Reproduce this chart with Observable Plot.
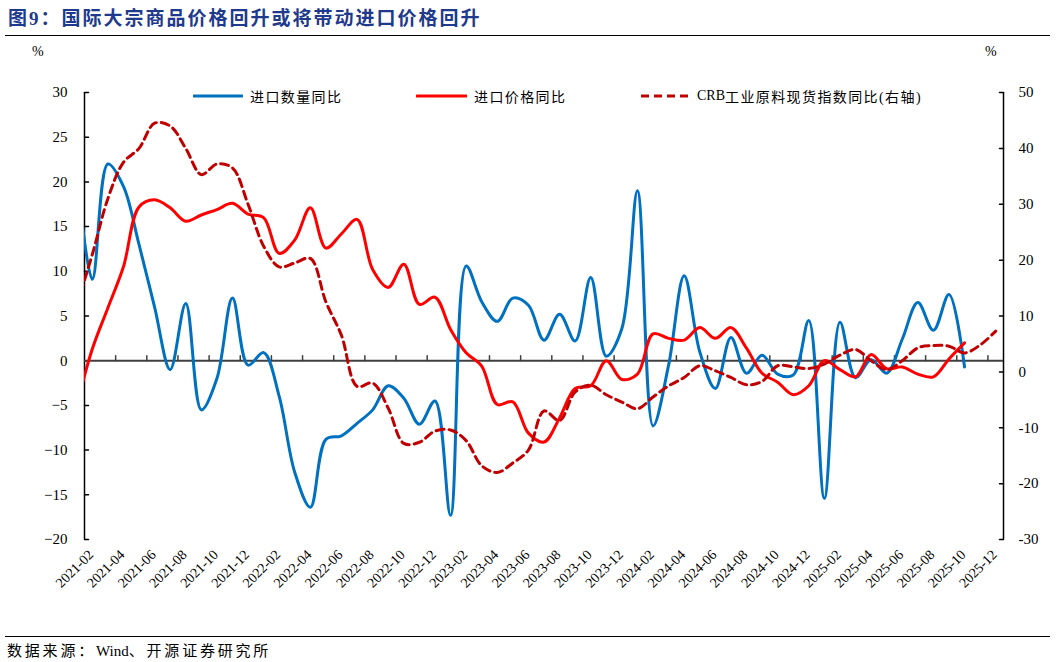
<!DOCTYPE html>
<html>
<head>
<meta charset="utf-8">
<script src="https://cdn.jsdelivr.net/npm/d3@7"></script>
<script src="https://cdn.jsdelivr.net/npm/@observablehq/plot@0.6"></script>
<style>
  body { margin: 0; background: #fff; }
  #page { position: relative; width: 1057px; height: 662px; overflow: hidden; background: #fff;
          font-family: "Liberation Serif", "Noto Sans CJK SC", serif; color: #000; }
  .title { position: absolute; left: 8px; top: 3px; font-family: "Liberation Serif", "Noto Sans CJK SC", serif;
           font-weight: bold; font-size: 19px; letter-spacing: 2px; color: #1F3A8C; white-space: nowrap; }
  .hr { position: absolute; left: 5px; width: 1045px; border-top: 1px solid #000; }
  .unit { position: absolute; top: 44px; font-size: 14px; }
  .legend { position: absolute; top: 86px; height: 20px; display: flex; align-items: center;
            font-size: 14px; letter-spacing: 1.4px; white-space: nowrap; }
  .legend svg { margin-right: 7px; }
  .latin { letter-spacing: 0; }
  .source { position: absolute; left: 7px; top: 639px; font-size: 15px; letter-spacing: 2.8px; white-space: nowrap; }
  #chart { position: absolute; left: 0; top: 40px; }
</style>
</head>
<body>
<div id="page">
  <div class="title">图9：国际大宗商品价格回升或将带动进口价格回升</div>
  <div class="hr" style="top:35px"></div>
  <div class="unit" style="left:32px">%</div>
  <div class="unit" style="left:985px">%</div>
  <div id="chart"></div>
  <div class="legend" style="left:193px">
    <svg width="50" height="6"><line x1="1" y1="3" x2="49" y2="3" stroke="#0070C0" stroke-width="3" stroke-linecap="round"/></svg>进口数量同比
  </div>
  <div class="legend" style="left:416px">
    <svg width="51" height="6"><line x1="1" y1="3" x2="50" y2="3" stroke="#FF0000" stroke-width="3" stroke-linecap="round"/></svg>进口价格同比
  </div>
  <div class="legend" style="left:640px">
    <svg width="50" height="6"><line x1="1" y1="3" x2="50" y2="3" stroke="#C00000" stroke-width="3" stroke-dasharray="8,5"/></svg><span class="latin">CRB</span>工业原料现货指数同比(右轴)
  </div>
  <div class="hr" style="top:636px"></div>
  <div class="source">数据来源：<span class="latin">Wind</span>、开源证券研究所</div>
</div>
<script>
// Monthly categories, 2021-01 .. 2025-12
const months = [
  "2021-01","2021-02","2021-03","2021-04","2021-05","2021-06","2021-07","2021-08","2021-09","2021-10","2021-11","2021-12",
  "2022-01","2022-02","2022-03","2022-04","2022-05","2022-06","2022-07","2022-08","2022-09","2022-10","2022-11","2022-12",
  "2023-01","2023-02","2023-03","2023-04","2023-05","2023-06","2023-07","2023-08","2023-09","2023-10","2023-11","2023-12",
  "2024-01","2024-02","2024-03","2024-04","2024-05","2024-06","2024-07","2024-08","2024-09","2024-10","2024-11","2024-12",
  "2025-01","2025-02","2025-03","2025-04","2025-05","2025-06","2025-07","2025-08","2025-09","2025-10","2025-11","2025-12"
];

// 进口数量同比 (%), left axis
const importVolume = [
  21, 9.1, 22, 19.5, 13, 6, -1.0, 6.4, -5.5, -2.0, 7.0, -0.5,
  0.9, -4, -12.5, -16.4, -8.8, -8.4, -7.0, -5.5, -2.8, -4.2, -7.1, -4.5,
  -17.3, 10.6, 6.6, 4.4, 7.0, 6.2, 2.3, 5.2, 2.2, 9.3, 0.5, 3.6,
  19.0, -7.3, -0.5, 9.5, 1.0, -3.1, 2.6, -1.4, 0.6, -1.5, -1.6, 4.5,
  -15.4, 4.3, -1.9, 0.1, -1.4, 2.4, 6.5, 3.4, 7.4, -0.7
];

// 进口价格同比 (%), left axis
const importPrice = [
  -5, 1.3, 5.9, 10.5, 17.2, 18.0, 17.1, 15.6, 16.3, 16.9, 17.6, 16.4,
  16.0, 12.0, 13.5, 17.1, 12.6, 14.2, 15.8, 10.2, 8.2, 10.8, 6.3, 7.1,
  3.5, 0.9, -0.6, -4.9, -4.6, -8.1, -9.1, -6.4, -3.1, -2.8, 0.0, -2.1,
  -1.5, 3.0, 2.5, 2.3, 3.7, 2.5, 3.7, 1.4, -1.4, -2.4, -3.8, -2.8,
  0.0, -1.0, -1.8, 0.7, -0.9, -0.7, -1.5, -1.8, 0.2, 2.0
];

// CRB工业原料现货指数同比 (%), right axis
const crbIndustrials = [
  12, 21, 31, 37.5, 40, 44.5, 44, 40, 35.3, 37.2, 36.5, 30,
  22.5, 18.8, 19.5, 20.3, 12.5, 6.5, -2.6, -2.0, -6.5, -12.8, -12.6, -10.6,
  -10.4, -12.3, -16.8, -18.0, -16.3, -14.0, -7.0, -8.7, -3.6, -2.4, -4.1, -5.4,
  -6.6, -4.5, -2.5, -1.0, 1.1, 0.2, -1.0, -2.3, -1.7, 1.1, 0.9, 0.6,
  1.4, 3.0, 4.0, 2.0, 0.4, 2.0, 4.3, 4.7, 4.6, 3.4, 4.8, 7.3
];

const leftTicks = [-20, -15, -10, -5, 0, 5, 10, 15, 20, 25, 30];
const rightTicks = [-30, -20, -10, 0, 10, 20, 30, 40, 50];
// every second month is labelled, starting with 2021-02
const tickLabels = months.filter((m, i) => i % 2 === 1);

// right-axis values expressed on the left-axis scale (-30..50 -> -20..30)
const toLeft = r => (r + 30) * 50 / 80 - 20;
const fromLeft = v => Math.round((v + 20) * 80 / 50 - 30);

const idx = m => months.indexOf(m);
// tick marks on the zero line sit between labelled months
const boundaries = tickLabels.slice(1).map(m => idx(m) - 0.5);
const xMin = 0.5, xMax = months.length - 0.5;

// plain straight tick used by the vector marks
const tickShape = {draw(context, l) { context.moveTo(0, 0); context.lineTo(0, -l); }};

const chart = Plot.plot({
  width: 1057,
  height: 590,
  marginLeft: 84,
  marginRight: 54,
  marginTop: 52,
  marginBottom: 91,
  x: {type: "linear", domain: [xMin, xMax], axis: null},
  y: {domain: [-20, 30]},
  style: {fontFamily: "Liberation Serif, serif", fontSize: "15px", color: "#000", background: "transparent", overflow: "visible"},
  marks: [
    // left axis
    Plot.axisY(leftTicks, {anchor: "left", tickSize: 0, tickPadding: 17, fontSize: 15}),
    Plot.vector(leftTicks, {x: xMin, y: d => d, length: 4, rotate: 90, anchor: "start", shape: tickShape,
      stroke: "#000", strokeWidth: 1.5}),
    Plot.ruleX([xMin], {y1: -20, y2: 30, stroke: "#000", strokeWidth: 1.5}),
    // right axis
    Plot.axisY(rightTicks.map(toLeft), {anchor: "right", tickSize: 0, tickPadding: 15, fontSize: 15, tickFormat: d => String(fromLeft(d))}),
    Plot.vector(rightTicks.map(toLeft), {x: xMax, y: d => d, length: 4, rotate: -90, anchor: "start", shape: tickShape,
      stroke: "#000", strokeWidth: 1.5}),
    Plot.ruleX([xMax], {y1: -20, y2: 30, stroke: "#000", strokeWidth: 1.5}),
    // zero line with upward ticks
    Plot.ruleY([0], {stroke: "#404040", strokeWidth: 2}),
    Plot.vector(boundaries, {x: d => d, y: 0, length: 5, anchor: "start", shape: tickShape,
      stroke: "#404040", strokeWidth: 1.5}),
    // month labels
    Plot.text(tickLabels, {x: d => idx(d), text: d => d, frameAnchor: "bottom", rotate: -45,
      textAnchor: "end", dy: 16, dx: 2, fontSize: 14, fill: "#000"}),
    // series
    Plot.line(importVolume, {x: (d, i) => i, y: d => d, curve: "catmull-rom",
      stroke: "#0070C0", strokeWidth: 3, clip: true}),
    Plot.line(importPrice, {x: (d, i) => i, y: d => d, curve: "catmull-rom",
      stroke: "#FF0000", strokeWidth: 3, clip: true}),
    Plot.line(crbIndustrials, {x: (d, i) => i, y: d => toLeft(d), curve: "catmull-rom",
      stroke: "#C00000", strokeWidth: 3, strokeDasharray: "8,5", clip: true})
  ]
});

document.getElementById("chart").appendChild(chart);
</script>
</body>
</html>
